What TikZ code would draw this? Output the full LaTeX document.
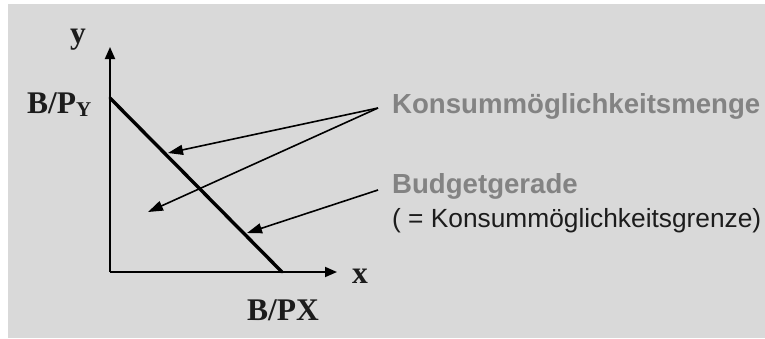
\documentclass[tikz,border=0pt]{standalone}
\usepackage{fontspec}
\setmainfont{Liberation Serif}
\setsansfont{Liberation Sans}
\usetikzlibrary{arrows.meta}
\definecolor{panel}{HTML}{D9D9D9}
\definecolor{labelgray}{HTML}{838383}
\definecolor{textdark}{HTML}{1C1C1C}
\tikzset{
  axis/.style={line width=1.8pt, -{Triangle[length=12pt,width=10pt]}},
  budget/.style={line width=3.4pt, line cap=round},
  pointer/.style={line width=1.6pt, -{Triangle[length=15pt,width=10pt]}},
  axislabel/.style={inner sep=0pt, text=textdark, font=\fontsize{31.5}{32}\selectfont\bfseries},
  graylabel/.style={inner sep=0pt, anchor=base west, text=labelgray, font=\fontsize{27.6}{30}\selectfont\sffamily\bfseries},
  plainlabel/.style={inner sep=0pt, anchor=base west, text=textdark, font=\fontsize{26.3}{30}\selectfont\sffamily},
}
\begin{document}
\begin{tikzpicture}[x=1pt, y=-1pt]
\useasboundingbox (0,0) rectangle (765,338);
\fill[white] (0,0) rectangle (765,338);
\fill[panel] (8,4) rectangle (765,338);

% axes and budget line
\coordinate (O) at (110,272);
\coordinate (ytip) at (110,47);
\coordinate (xtip) at (337,272);
\coordinate (by) at (110,98);
\coordinate (bx) at (282,272);
\draw[axis] (O) -- (ytip);
\draw[axis] (O) -- (xtip);
\draw[budget] (by) -- (bx);

% axis labels
\node[axislabel, anchor=base] (ylab) at (78,43) {y};
\node[axislabel, anchor=base] (xlab) at (360,283) {x};
\node[axislabel, anchor=base west] (bpy) at (27,113) {B/P\raisebox{-3pt}{\fontsize{21}{21}\selectfont Y}};
\node[axislabel, anchor=base] (bpx) at (283,320) {B/PX};

% explanations
\node[graylabel] (menge) at (392,113) {Konsummöglichkeitsmenge};
\node[graylabel] (gerade) at (392,193) {Budgetgerade};
\node[plainlabel] (grenze) at (392,227) {( = Konsummöglichkeitsgrenze)};

% pointer arrows
\coordinate (mengefrom) at (378,108);
\coordinate (geradefrom) at (378,190);
\coordinate (onset) at (168,153);
\coordinate (inset) at (148,212);
\coordinate (online) at (247,233);
\draw[pointer] (mengefrom) -- (onset);
\draw[pointer] (mengefrom) -- (inset);
\draw[pointer] (geradefrom) -- (online);
\end{tikzpicture}
\end{document}
